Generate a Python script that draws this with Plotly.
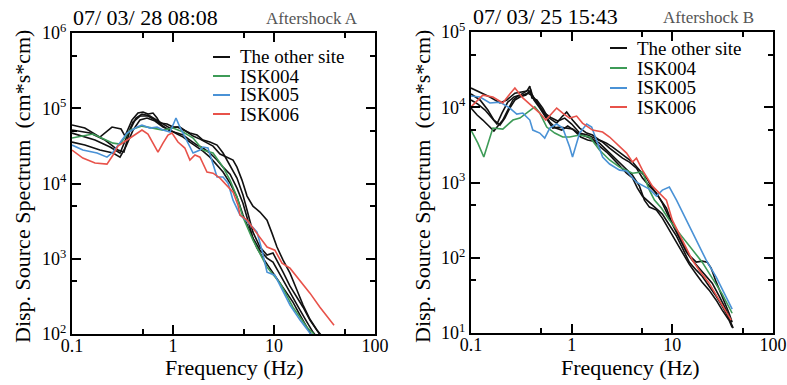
import plotly.graph_objects as go

FONT = "Liberation Serif"
BLACK = "#111111"
GREEN = "#3d9b57"
BLUE = "#4a92d6"
RED = "#e8524a"

# ---------------- Aftershock A (07/03/28 08:08) ----------------
A_other1_f = [0.100,0.134,0.189,0.249,0.306,0.335,0.393,0.450,0.505,0.565,0.634,0.695,0.743,0.873,1.00,1.17,1.38,1.58,1.85,2.17,2.49,2.92,3.43,3.93,4.30,4.82,5.41,6.19,7.26,8.53,9.55,10.7,12.3,14.4,16.9,19.4,22.7,26.7,29.9]
A_other1_v = [59800,54500,41400,56200,52900,42700,69700,86300,89000,83700,86300,74100,63500,61600,56200,56200,48300,42700,38900,34400,31400,24600,22400,20500,16500,11100,6800,5000,4170,3260,2190,1430,957,644,382,242,157,112,93.5]

A_other2_f = [0.100,0.151,0.212,0.285,0.327,0.375,0.430,0.493,0.592,0.695,0.796,0.934,1.10,1.26,1.47,1.73,1.98,2.32,2.73,3.13,3.67,4.30,4.93,5.53,6.19,7.26,8.53,9.77,11.0,12.3,14.4,16.9,19.4,22.7,26.7,29.2]
A_other2_v = [51300,46800,37800,27800,26200,51300,74100,83700,78800,69700,61600,54500,56200,51300,46800,44000,37800,35500,32400,25400,17600,11800,7020,4040,2260,1430,1120,1190,902,664,432,308,227,153,112,93.5]

A_other3_f = [0.100,0.169,0.238,0.299,0.351,0.402,0.471,0.565,0.663,0.796,0.934,1.10,1.26,1.47,1.73,1.98,2.32,2.73,3.13,3.67,4.30,4.93,5.53,6.19,7.26,8.53,9.77,11.5,13.5,15.4,18.1,21.2,24.3,26.7]
A_other3_v = [46800,37800,30500,25400,42700,65500,78800,78800,69700,58000,49800,46800,44000,37800,32400,29600,25400,20500,16500,13300,8690,5480,3260,1880,1300,1020,902,605,406,299,207,144,106,90.6]

A_other4_f = [0.100,0.134,0.189,0.255,0.299,0.343,0.402,0.471,0.553,0.663,0.796,0.934,1.10,1.26,1.47,1.73,1.98,2.32,2.73,3.13,3.67,4.30,4.93,5.78,6.79,7.78,9.12,10.7,12.9,15.4,18.1,21.2,23.8]
A_other4_v = [35500,32400,27800,25400,22400,31400,51300,69700,74100,67600,56200,51300,45400,41400,35500,30500,27000,22400,17600,14200,10100,6590,3800,2260,1380,1020,750,552,382,265,178,123,93.5]

A_isk004_f = [0.100,0.161,0.255,0.299,0.376,0.441,0.493,0.634,0.796,1.00,1.26,1.58,1.98,2.49,3.13,3.67,4.30,4.93,6.19,8.53,11.5,15.4,21.2,24.3,26.0]
A_isk004_v = [40200,45400,34400,33400,51300,54500,57900,54500,51300,54500,48300,40200,27800,25400,16500,11100,6590,3570,1770,773,474,227,123,103,92]

A_isk005_f = [0.100,0.128,0.177,0.222,0.255,0.299,0.351,0.441,0.493,0.592,0.695,0.796,0.934,1.05,1.07,1.17,1.31,1.58,1.85,1.98,2.22,2.49,2.73,3.13,3.51,3.93,4.61,5.41,6.79,7.60,8.53,10.2,11.5,14.4,18.1,22.7,24.5]
A_isk005_v = [32400,27800,25400,22400,26200,34400,46800,56200,59800,54500,56200,51300,48300,69700,74100,56200,41400,25400,27800,30500,29600,17600,12200,12200,10100,6010,3800,3160,2260,1300,664,605,446,242,153,103,90]

A_isk006_f = [0.100,0.128,0.169,0.222,0.255,0.285,0.351,0.441,0.493,0.565,0.634,0.710,0.796,0.892,0.978,1.12,1.31,1.47,1.65,1.85,2.17,2.49,2.92,3.27,3.93,4.40,4.61,5.41,6.79,8.53,10.2,12.0,14.4,18.1,22.7,28.5,35.8,39.3]
A_isk006_v = [27800,21800,18700,18100,23900,31400,37800,46800,51300,45400,34400,26200,34400,44000,46800,35600,29600,20500,23900,22400,14200,13700,11800,10100,7690,5160,3800,3260,2190,1430,1300,873,750,519,349,227,153,131]

# ---------------- Aftershock B (07/03/25 15:43) ----------------
B_other1_f = [0.100,0.123,0.154,0.194,0.227,0.273,0.320,0.359,0.384,0.402,0.450,0.516,0.578,0.649,0.710,0.796,0.892,1.02,1.20,1.41,1.61,1.89,2.22,2.55,2.99,3.51,4.02,4.71,5.53,6.34,7.43,8.73,10.0,11.7,13.8,15.8,18.5,21.7,24.9,29.2,34.3,38.4]
B_other1_v = [18000,15900,13700,11400,12500,15400,15900,16400,19100,13300,12500,9750,7410,6760,6160,7410,8630,6760,5290,4540,4270,3660,3340,2960,2540,2180,1870,1460,1150,843,620,457,280,182,119,92.9,72.8,56.9,45.9,30.8,20.1,13.9]

B_other2_f = [0.100,0.115,0.131,0.154,0.169,0.185,0.207,0.232,0.261,0.292,0.327,0.367,0.411,0.461,0.540,0.634,0.727,0.853,1.00,1.20,1.44,1.69,2.03,2.38,2.79,3.20,3.75,4.40,5.05,5.92,6.95,7.96,9.34,11.0,12.6,14.7,17.3,19.8,22.2,24.3,27.3,31.3,36.6,39.3]
B_other2_v = [9750,7880,6760,5450,4830,5620,6760,9180,12500,14100,14500,15400,14100,11000,8370,7180,6550,7180,5980,4540,4270,3890,3450,2870,2460,2110,1870,1550,1150,895,723,532,336,233,161,108,87.4,90.2,87.4,72.8,47.4,30.8,18.3,13.9]

B_other3_f = [0.100,0.123,0.147,0.169,0.194,0.217,0.243,0.273,0.306,0.351,0.393,0.421,0.482,0.565,0.649,0.761,0.892,1.02,1.20,1.41,1.61,1.89,2.22,2.55,2.99,3.51,4.02,4.71,5.28,5.92,6.95,7.96,9.34,11.0,12.6,14.7,17.3,19.8,23.2,27.3,31.3,36.6,39.3]
B_other3_v = [15000,12500,9180,6760,5800,7180,9750,12500,13700,14500,16900,12500,9750,7180,5290,5450,5290,5130,4400,4020,3780,3340,2700,2240,1810,1460,1250,895,583,471,430,336,233,156,115,82.2,60.5,47.4,37.1,27.3,20.1,14.8,11.9]

B_other4_f = [0.100,0.117,0.138,0.161,0.181,0.203,0.232,0.267,0.306,0.343,0.367,0.402,0.461,0.528,0.606,0.695,0.796,0.913,1.05,1.23,1.44,1.65,1.89,2.22,2.55,2.99,3.51,4.02,4.50,5.05,5.92,6.95,7.96,9.34,11.0,12.6,14.7,17.3,19.8,23.2,27.3,31.3,36.6,40.2]
B_other4_v = [12500,11000,9180,7180,5980,8370,11700,13700,14500,15900,16900,14500,11400,8370,6360,5290,4970,5620,4970,4020,3660,3550,3050,2540,2110,1650,1330,1150,843,659,549,457,380,272,194,134,87.4,68.4,56.9,41.9,30.8,22.7,15.7,11.6]

B_isk004_f = [0.100,0.117,0.134,0.165,0.207,0.261,0.306,0.384,0.430,0.482,0.565,0.679,0.815,0.955,1.20,1.51,1.89,2.38,2.99,4.02,5.05,5.92,6.64,7.78,9.34,12.6,15.8,19.8,24.9,31.3,39.3]
B_isk004_v = [4970,3340,2180,5290,5130,6760,7180,9180,10100,8370,5450,4540,4020,4020,4270,4020,2700,1990,1600,1330,1380,793,583,457,316,188,130,87.4,53.6,32.8,18.3]

B_isk005_f = [0.100,0.123,0.154,0.194,0.243,0.285,0.327,0.384,0.411,0.482,0.540,0.606,0.710,0.815,0.955,1.02,1.20,1.41,1.58,1.77,2.03,2.38,2.99,3.51,4.40,5.92,6.95,7.96,9.34,11.0,13.8,17.3,21.7,27.3,34.3,39.3]
B_isk005_v = [14100,13700,11400,11700,9750,8120,8370,6760,4970,4540,3890,5290,5980,5290,2960,2180,4540,5980,5450,3550,2180,1760,1460,1420,1010,817,659,793,868,583,316,171,92.9,55.2,29.9,20.7]

B_isk006_f = [0.100,0.131,0.165,0.207,0.243,0.273,0.327,0.402,0.482,0.553,0.710,0.815,0.955,1.12,1.28,1.61,2.03,2.38,2.99,3.51,4.02,4.40,5.05,6.34,7.43,8.73,10.0,12.6,15.8,18.5,23.2,29.2,34.3,38.4]
B_isk006_v = [10100,14500,13700,11400,15000,18000,13300,10400,8370,6760,9750,8370,7180,7640,6160,4970,4680,4020,3050,2460,1870,2110,1460,895,723,583,316,171,92.9,68.4,45.9,27.3,19.5,14.8]

# tick labels
X_TICKS = [0.1, 1, 10, 100]
X_TICKTEXT = ["0.1", "1", "10", "100"]
X_MINOR = [0.5, 5, 50]
A_Y_TICKS = [1e2, 1e3, 1e4, 1e5, 1e6]
A_Y_TICKTEXT = ["10<sup>2</sup>", "10<sup>3</sup>", "10<sup>4</sup>", "10<sup>5</sup>", "10<sup>6</sup>"]
A_Y_MINOR = [5e2, 5e3, 5e4, 5e5]
B_Y_TICKS = [1e1, 1e2, 1e3, 1e4, 1e5]
B_Y_TICKTEXT = ["10<sup>1</sup>", "10<sup>2</sup>", "10<sup>3</sup>", "10<sup>4</sup>", "10<sup>5</sup>"]
B_Y_MINOR = [5e1, 5e2, 5e3, 5e4]

LEGEND_LABELS = ["The other site", "ISK004", "ISK005", "ISK006"]
LEGEND_COLORS = [BLACK, GREEN, BLUE, RED]

W, H = 787, 385

fig = go.Figure()

def add(fx, vy, color, xa, ya):
    fig.add_trace(go.Scatter(x=fx, y=vy, mode="lines",
                             line=dict(color=color, width=1.6),
                             xaxis=xa, yaxis=ya, showlegend=False,
                             hoverinfo="skip"))

for f, v in [(A_other1_f, A_other1_v), (A_other2_f, A_other2_v),
             (A_other3_f, A_other3_v), (A_other4_f, A_other4_v)]:
    add(f, v, BLACK, "x", "y")
add(A_isk004_f, A_isk004_v, GREEN, "x", "y")
add(A_isk005_f, A_isk005_v, BLUE, "x", "y")
add(A_isk006_f, A_isk006_v, RED, "x", "y")

for f, v in [(B_other1_f, B_other1_v), (B_other2_f, B_other2_v),
             (B_other3_f, B_other3_v), (B_other4_f, B_other4_v)]:
    add(f, v, BLACK, "x2", "y2")
add(B_isk004_f, B_isk004_v, GREEN, "x2", "y2")
add(B_isk005_f, B_isk005_v, BLUE, "x2", "y2")
add(B_isk006_f, B_isk006_v, RED, "x2", "y2")

tickfont = dict(family=FONT, size=18, color="black")

def xaxis(domain, anchor):
    return dict(domain=domain, anchor=anchor, type="log", range=[-1, 2],
                automargin=False, ticklabelstandoff=-6,
                tickmode="array", tickvals=X_TICKS, ticktext=X_TICKTEXT,
                ticks="inside", ticklen=9, tickwidth=1.6, tickcolor="black",
                minor=dict(tickmode="array", tickvals=X_MINOR, ticks="inside",
                           ticklen=5, tickwidth=1.6, tickcolor="black"),
                showline=True, linewidth=2, linecolor="black", mirror="ticks",
                showgrid=False, zeroline=False, tickfont=tickfont)

def yaxis(domain, anchor, rng, tv, tt, mn):
    return dict(domain=domain, anchor=anchor, type="log", range=rng,
                automargin=False,
                tickmode="array", tickvals=tv, ticktext=tt,
                ticks="inside", ticklen=9, tickwidth=1.6, tickcolor="black",
                minor=dict(tickmode="array", tickvals=mn, ticks="inside",
                           ticklen=5, tickwidth=1.6, tickcolor="black"),
                showline=True, linewidth=2, linecolor="black", mirror="ticks",
                showgrid=False, zeroline=False, tickfont=tickfont)

annotations = []
shapes = []

def ann(text, x, y, size, xanchor="center", yanchor="middle", color="black", angle=0):
    annotations.append(dict(text=text, x=x / W, y=1 - y / H, xref="paper", yref="paper",
                            xanchor=xanchor, yanchor=yanchor, showarrow=False,
                            textangle=angle,
                            font=dict(family=FONT, size=size, color=color)))

# titles
ann("07/ 03/ 28 08:08", 71, 32, 22, xanchor="left", yanchor="bottom")
ann("Aftershock A", 360, 30, 17, xanchor="right", yanchor="bottom", color="#555555")
ann("07/ 03/ 25 15:43", 471, 31, 22, xanchor="left", yanchor="bottom")
ann("Aftershock B", 756, 29, 17, xanchor="right", yanchor="bottom", color="#555555")
# axis titles
ann("Frequency (Hz)", 234, 367, 22)
ann("Frequency (Hz)", 630, 367, 22)
ann("Disp. Source Spectrum  (cm*s*cm)", 22, 187, 22, angle=-90)
ann("Disp. Source Spectrum  (cm*s*cm)", 422, 187, 22, angle=-90)

# legends
for rows, x0, x1, xt in [([57, 76, 95, 114], 213, 230, 238),
                         ([48, 68, 88, 107], 610, 627, 635)]:
    for yy, lab, col in zip(rows, LEGEND_LABELS, LEGEND_COLORS):
        shapes.append(dict(type="line", xref="paper", yref="paper",
                           x0=x0 / W, x1=x1 / W, y0=1 - yy / H, y1=1 - yy / H,
                           line=dict(color=col, width=2)))
        ann(lab, xt, yy, 19, xanchor="left")

fig.update_layout(
    width=W, height=H,
    margin=dict(l=0, r=0, t=0, b=0, pad=0, autoexpand=False),
    paper_bgcolor="white", plot_bgcolor="white",
    showlegend=False,
    xaxis=xaxis([72 / W, 375 / W], "y"),
    yaxis=yaxis([1 - 334 / H, 1 - 33 / H], "x", [2, 6], A_Y_TICKS, A_Y_TICKTEXT, A_Y_MINOR),
    xaxis2=xaxis([471 / W, 773 / W], "y2"),
    yaxis2=yaxis([1 - 333 / H, 1 - 32 / H], "x2", [1, 5], B_Y_TICKS, B_Y_TICKTEXT, B_Y_MINOR),
    annotations=annotations,
    shapes=shapes,
)

fig.write_html("out.html")
